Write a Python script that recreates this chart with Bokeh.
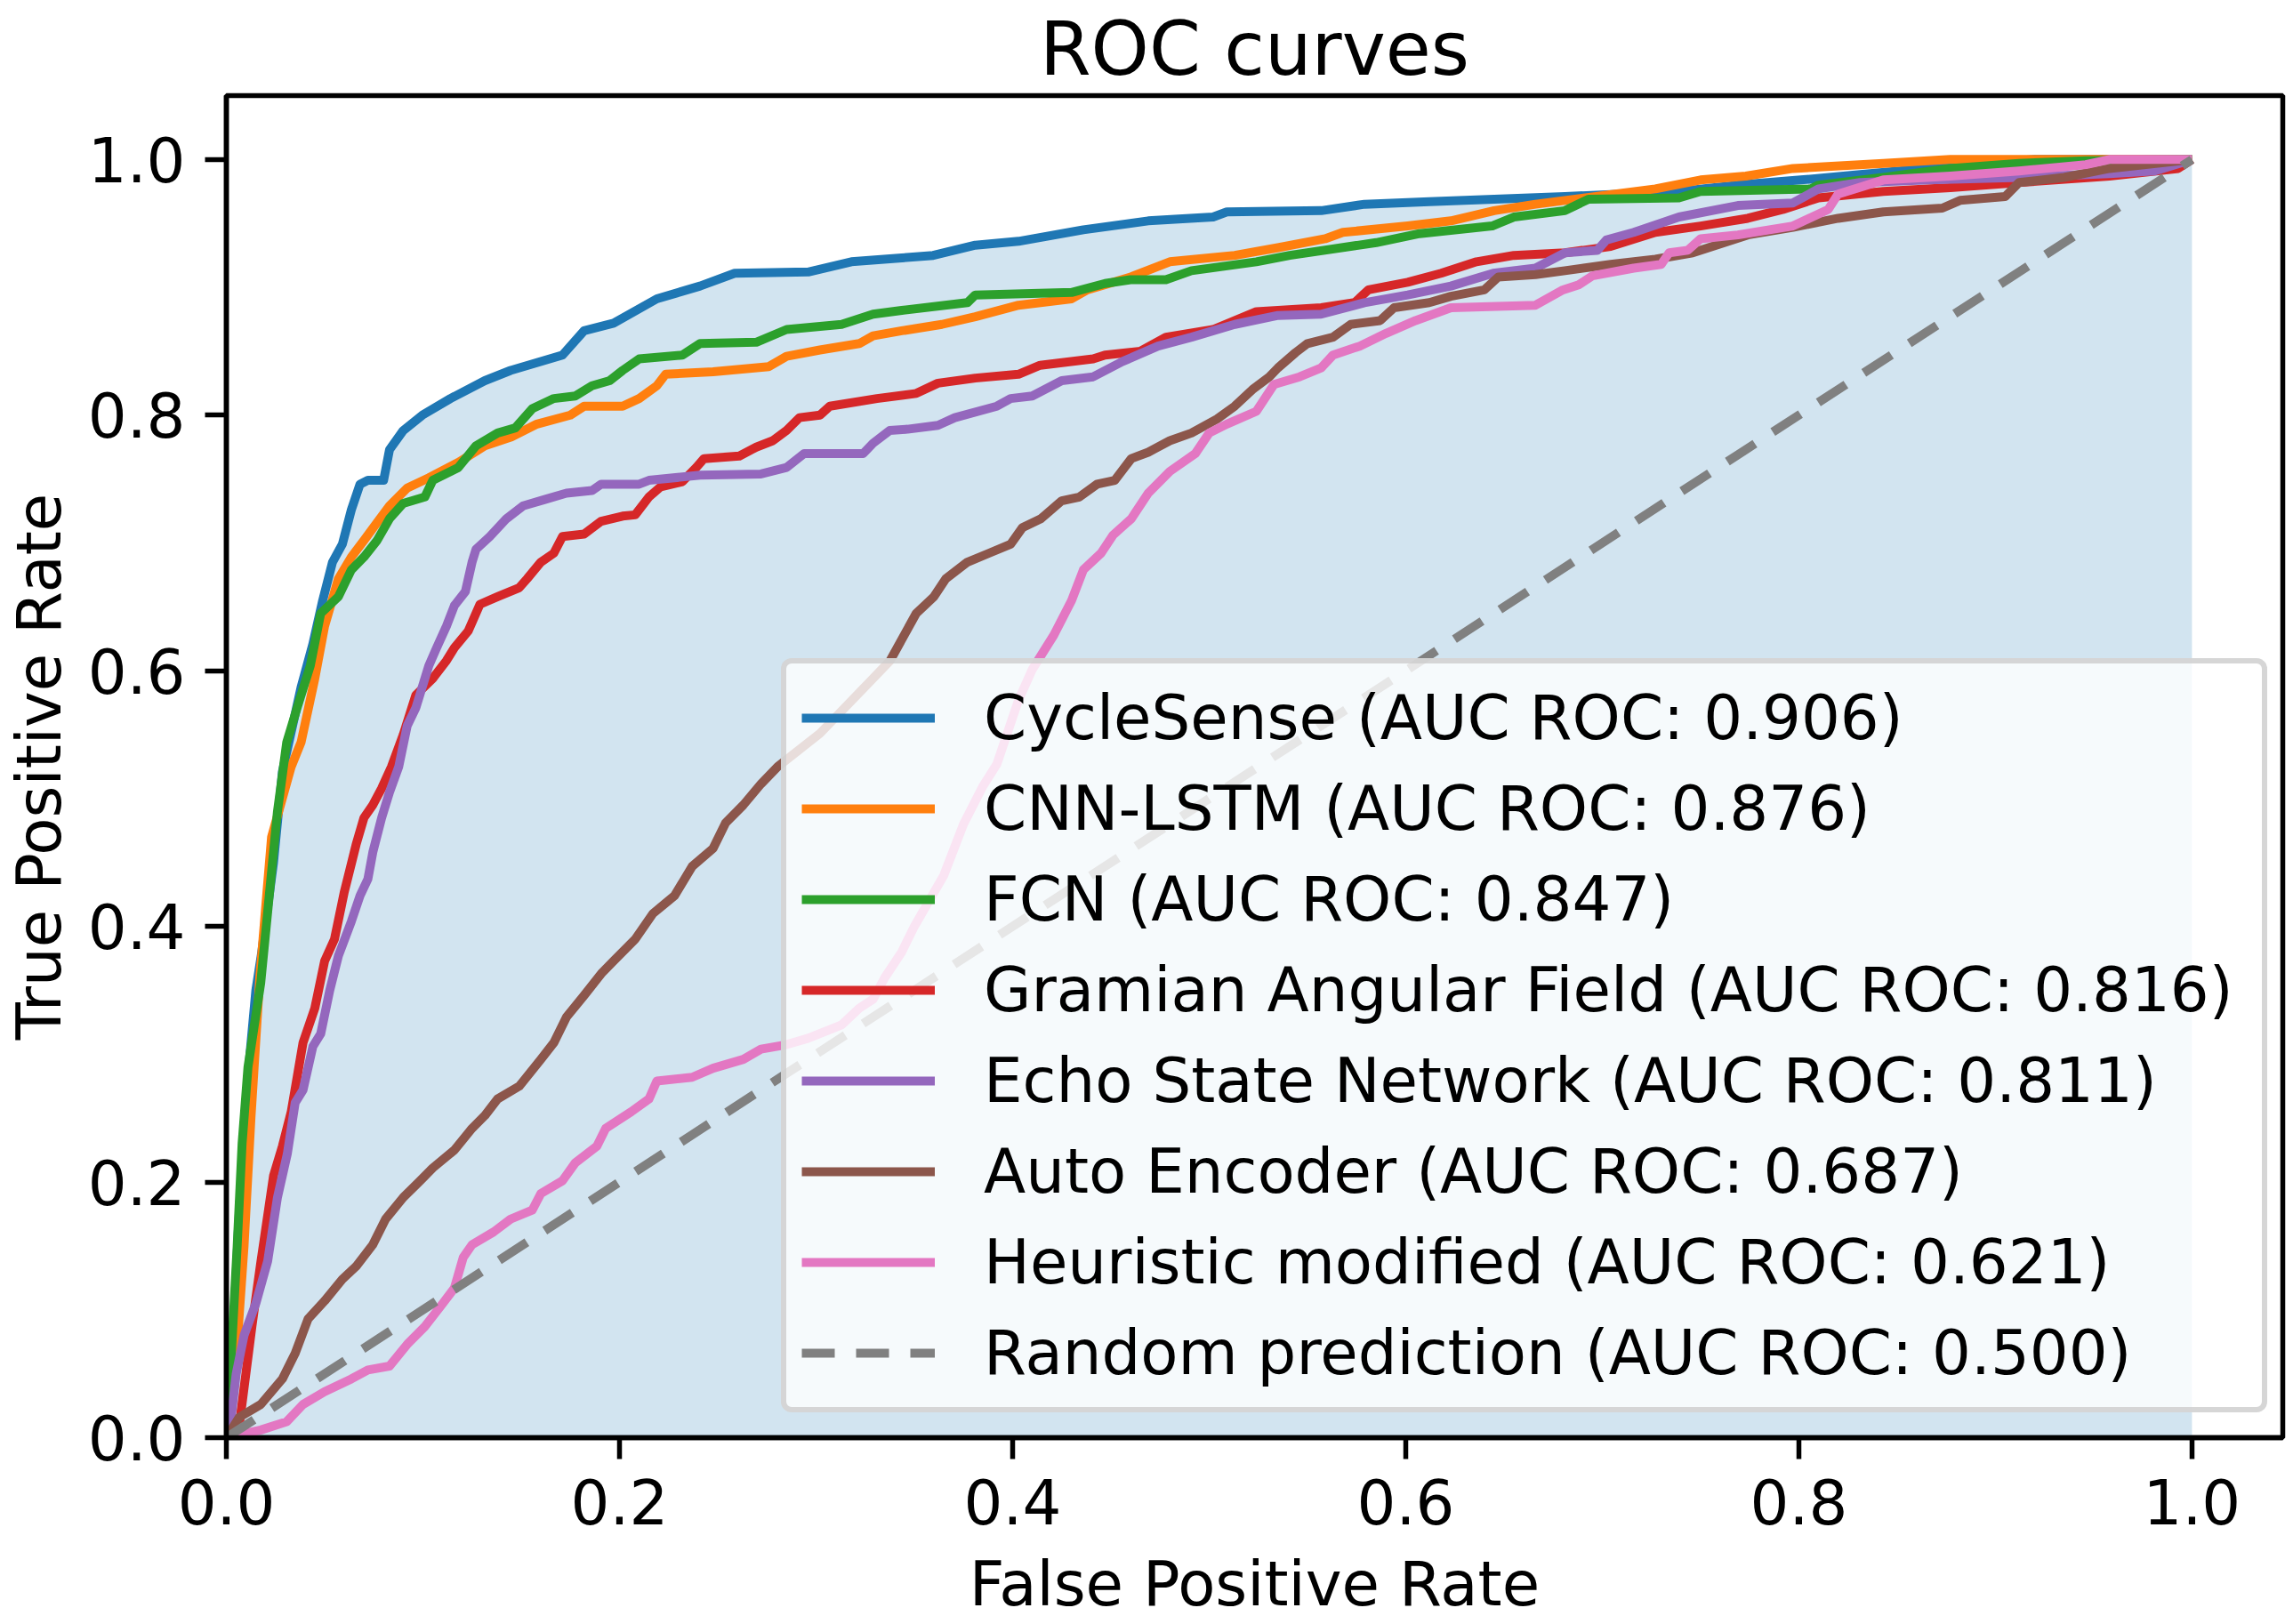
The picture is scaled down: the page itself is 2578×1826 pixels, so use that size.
from bokeh.plotting import figure
from bokeh.models import Legend, LegendItem, FixedTicker, Range1d, NumeralTickFormatter
from bokeh.embed import file_html
from bokeh.resources import INLINE

# ---------------- data ----------------
cyclesense_fpr = [0, 0.003, 0.006, 0.009, 0.012, 0.015, 0.018, 0.024, 0.0285, 0.038, 0.044, 0.049, 0.054, 0.059, 0.0636, 0.068, 0.072, 0.080, 0.083, 0.090, 0.0997, 0.114, 0.1315, 0.1446, 0.171, 0.182, 0.197, 0.219, 0.241, 0.2586, 0.296, 0.318, 0.3436, 0.3596, 0.381, 0.403, 0.436, 0.469, 0.502, 0.509, 0.557, 0.579, 0.612, 0.681, 0.739, 0.769, 0.801, 0.83, 0.88, 0.92, 1.0]
cyclesense_tpr = [0, 0.06, 0.16, 0.24, 0.30, 0.35, 0.38, 0.45, 0.521, 0.587, 0.621, 0.655, 0.685, 0.699, 0.726, 0.746, 0.749, 0.749, 0.773, 0.788, 0.800, 0.813, 0.827, 0.835, 0.847, 0.866, 0.872, 0.891, 0.901, 0.911, 0.912, 0.920, 0.923, 0.925, 0.933, 0.936, 0.945, 0.952, 0.955, 0.959, 0.960, 0.965, 0.967, 0.971, 0.975, 0.980, 0.984, 0.988, 0.995, 1.0, 1.0]

cnnlstm_fpr = [0, 0.004, 0.009, 0.0125, 0.017, 0.023, 0.033, 0.038, 0.045, 0.050, 0.057, 0.0636, 0.070, 0.0767, 0.083, 0.092, 0.103, 0.118, 0.1315, 0.145, 0.158, 0.175, 0.182, 0.2016, 0.210, 0.219, 0.2235, 0.2476, 0.276, 0.285, 0.302, 0.322, 0.329, 0.3436, 0.364, 0.381, 0.403, 0.430, 0.438, 0.460, 0.480, 0.513, 0.535, 0.559, 0.568, 0.601, 0.623, 0.645, 0.666, 0.681, 0.727, 0.750, 0.773, 0.797, 0.843, 0.877, 1.0]
cnnlstm_tpr = [0, 0.04, 0.15, 0.25, 0.36, 0.47, 0.525, 0.544, 0.594, 0.635, 0.672, 0.689, 0.702, 0.716, 0.729, 0.743, 0.751, 0.763, 0.776, 0.783, 0.793, 0.800, 0.807, 0.807, 0.813, 0.823, 0.832, 0.834, 0.838, 0.846, 0.851, 0.856, 0.862, 0.866, 0.871, 0.877, 0.886, 0.891, 0.898, 0.908, 0.920, 0.925, 0.931, 0.938, 0.943, 0.948, 0.952, 0.960, 0.965, 0.968, 0.977, 0.984, 0.987, 0.993, 0.997, 1.0, 1.0]

fcn_fpr = [0, 0.002, 0.0055, 0.008, 0.011, 0.0175, 0.026, 0.0307, 0.036, 0.0427, 0.048, 0.057, 0.0636, 0.070, 0.0767, 0.083, 0.090, 0.101, 0.105, 0.118, 0.127, 0.138, 0.147, 0.1556, 0.1666, 0.1775, 0.186, 0.195, 0.2016, 0.210, 0.232, 0.241, 0.2696, 0.285, 0.313, 0.329, 0.3436, 0.377, 0.381, 0.430, 0.447, 0.460, 0.478, 0.491, 0.524, 0.541, 0.585, 0.607, 0.644, 0.655, 0.681, 0.693, 0.739, 0.750, 0.806, 0.810, 0.843, 0.877, 0.912, 0.946, 1.0]
fcn_tpr = [0, 0.05, 0.15, 0.23, 0.29, 0.356, 0.49, 0.544, 0.571, 0.604, 0.645, 0.658, 0.679, 0.689, 0.702, 0.719, 0.731, 0.736, 0.749, 0.759, 0.776, 0.786, 0.790, 0.805, 0.813, 0.815, 0.823, 0.827, 0.835, 0.844, 0.847, 0.856, 0.857, 0.867, 0.871, 0.879, 0.882, 0.888, 0.894, 0.896, 0.903, 0.906, 0.906, 0.913, 0.920, 0.925, 0.935, 0.942, 0.948, 0.955, 0.960, 0.969, 0.970, 0.975, 0.977, 0.980, 0.986, 0.993, 0.997, 0.999, 1.0]

gaf_fpr = [0, 0.006, 0.0068, 0.013, 0.0175, 0.024, 0.0285, 0.033, 0.036, 0.039, 0.045, 0.050, 0.055, 0.060, 0.066, 0.070, 0.0745, 0.079, 0.084, 0.090, 0.0964, 0.105, 0.112, 0.116, 0.123, 0.129, 0.138, 0.149, 0.153, 0.160, 0.1666, 0.171, 0.182, 0.1907, 0.2016, 0.208, 0.215, 0.221, 0.232, 0.239, 0.243, 0.261, 0.2696, 0.278, 0.285, 0.2915, 0.302, 0.307, 0.331, 0.351, 0.362, 0.381, 0.403, 0.414, 0.441, 0.447, 0.465, 0.478, 0.502, 0.524, 0.557, 0.574, 0.581, 0.601, 0.618, 0.636, 0.655, 0.681, 0.7043, 0.727, 0.750, 0.774, 0.792, 0.810, 0.843, 0.877, 0.912, 0.958, 0.993, 1.0]
gaf_tpr = [0, 0, 0.0125, 0.087, 0.137, 0.205, 0.228, 0.255, 0.282, 0.309, 0.336, 0.373, 0.39, 0.427, 0.464, 0.485, 0.495, 0.508, 0.525, 0.550, 0.581, 0.594, 0.608, 0.618, 0.631, 0.652, 0.658, 0.665, 0.672, 0.685, 0.692, 0.705, 0.707, 0.717, 0.721, 0.722, 0.736, 0.744, 0.748, 0.759, 0.766, 0.768, 0.775, 0.780, 0.788, 0.798, 0.800, 0.807, 0.813, 0.817, 0.825, 0.829, 0.832, 0.839, 0.844, 0.847, 0.850, 0.861, 0.867, 0.881, 0.884, 0.888, 0.898, 0.904, 0.911, 0.920, 0.925, 0.927, 0.932, 0.943, 0.948, 0.954, 0.961, 0.970, 0.975, 0.978, 0.982, 0.987, 0.993, 1.0]

esn_fpr = [0, 0.002, 0.005, 0.009, 0.015, 0.021, 0.026, 0.031, 0.035, 0.039, 0.044, 0.048, 0.0526, 0.057, 0.0636, 0.068, 0.072, 0.0745, 0.079, 0.083, 0.0877, 0.092, 0.0964, 0.103, 0.107, 0.112, 0.116, 0.1216, 0.125, 0.127, 0.134, 0.1425, 0.151, 0.162, 0.173, 0.186, 0.1907, 0.210, 0.215, 0.241, 0.272, 0.285, 0.294, 0.324, 0.329, 0.3375, 0.3465, 0.362, 0.3706, 0.392, 0.399, 0.410, 0.425, 0.441, 0.456, 0.474, 0.491, 0.513, 0.535, 0.557, 0.579, 0.601, 0.623, 0.6445, 0.666, 0.681, 0.6975, 0.702, 0.716, 0.739, 0.769, 0.797, 0.810, 0.831, 0.866, 0.912, 0.958, 0.981, 1.0]
esn_tpr = [0, 0.01, 0.05, 0.08, 0.105, 0.138, 0.188, 0.222, 0.262, 0.272, 0.306, 0.316, 0.35, 0.377, 0.404, 0.424, 0.437, 0.458, 0.485, 0.505, 0.525, 0.557, 0.571, 0.604, 0.618, 0.635, 0.651, 0.662, 0.685, 0.695, 0.705, 0.719, 0.729, 0.734, 0.739, 0.741, 0.746, 0.746, 0.749, 0.753, 0.754, 0.759, 0.770, 0.770, 0.778, 0.788, 0.789, 0.792, 0.798, 0.807, 0.813, 0.815, 0.827, 0.830, 0.842, 0.854, 0.861, 0.871, 0.878, 0.879, 0.888, 0.894, 0.901, 0.911, 0.915, 0.927, 0.929, 0.937, 0.943, 0.955, 0.964, 0.966, 0.977, 0.982, 0.984, 0.986, 0.989, 0.991, 1.0]

ae_fpr = [0, 0.0066, 0.0175, 0.0285, 0.035, 0.0416, 0.050, 0.059, 0.066, 0.0745, 0.081, 0.090, 0.0986, 0.105, 0.116, 0.125, 0.1315, 0.138, 0.149, 0.160, 0.1666, 0.173, 0.182, 0.1907, 0.197, 0.208, 0.217, 0.228, 0.237, 0.2476, 0.254, 0.263, 0.272, 0.2805, 0.302, 0.324, 0.3377, 0.351, 0.360, 0.366, 0.377, 0.388, 0.399, 0.405, 0.4144, 0.425, 0.434, 0.443, 0.452, 0.4604, 0.469, 0.480, 0.491, 0.504, 0.513, 0.522, 0.5306, 0.535, 0.544, 0.550, 0.563, 0.572, 0.587, 0.594, 0.612, 0.623, 0.640, 0.647, 0.666, 0.681, 0.7043, 0.727, 0.746, 0.774, 0.797, 0.820, 0.843, 0.873, 0.882, 0.905, 0.912, 0.935, 0.958, 1.0]
ae_tpr = [0, 0.016, 0.026, 0.046, 0.066, 0.093, 0.107, 0.124, 0.134, 0.151, 0.171, 0.188, 0.201, 0.211, 0.225, 0.242, 0.252, 0.265, 0.275, 0.296, 0.309, 0.329, 0.346, 0.363, 0.373, 0.39, 0.41, 0.424, 0.447, 0.461, 0.481, 0.495, 0.5115, 0.525, 0.551, 0.586, 0.608, 0.645, 0.658, 0.672, 0.685, 0.692, 0.699, 0.712, 0.719, 0.733, 0.736, 0.746, 0.749, 0.766, 0.771, 0.780, 0.786, 0.797, 0.807, 0.820, 0.830, 0.837, 0.849, 0.856, 0.861, 0.871, 0.874, 0.884, 0.888, 0.893, 0.898, 0.908, 0.910, 0.913, 0.918, 0.922, 0.927, 0.941, 0.947, 0.954, 0.959, 0.962, 0.968, 0.971, 0.982, 0.986, 0.993, 1.0]

heur_fpr = [0, 0.0066, 0.0175, 0.0307, 0.039, 0.050, 0.0636, 0.072, 0.083, 0.092, 0.101, 0.1096, 0.116, 0.1205, 0.125, 0.136, 0.1446, 0.1556, 0.160, 0.171, 0.1775, 0.1885, 0.193, 0.206, 0.215, 0.219, 0.237, 0.2476, 0.263, 0.272, 0.285, 0.296, 0.313, 0.322, 0.329, 0.335, 0.3436, 0.35, 0.365, 0.375, 0.385, 0.392, 0.403, 0.410, 0.421, 0.430, 0.436, 0.445, 0.451, 0.4604, 0.469, 0.480, 0.493, 0.500, 0.509, 0.524, 0.533, 0.546, 0.557, 0.563, 0.5766, 0.590, 0.605, 0.623, 0.666, 0.680, 0.688, 0.695, 0.716, 0.730, 0.734, 0.7435, 0.750, 0.769, 0.797, 0.815, 0.820, 0.843, 0.877, 0.912, 0.946, 0.958, 1.0]
heur_tpr = [0, 0.0024, 0.006, 0.0125, 0.026, 0.036, 0.046, 0.053, 0.056, 0.073, 0.087, 0.104, 0.117, 0.141, 0.151, 0.161, 0.171, 0.178, 0.191, 0.201, 0.215, 0.228, 0.242, 0.255, 0.265, 0.279, 0.282, 0.289, 0.296, 0.304, 0.3075, 0.3125, 0.323, 0.336, 0.343, 0.36, 0.38, 0.40, 0.44, 0.48, 0.51, 0.527, 0.577, 0.601, 0.628, 0.655, 0.679, 0.692, 0.706, 0.719, 0.739, 0.756, 0.770, 0.786, 0.793, 0.803, 0.824, 0.830, 0.837, 0.847, 0.854, 0.864, 0.874, 0.884, 0.886, 0.898, 0.902, 0.909, 0.915, 0.918, 0.927, 0.929, 0.938, 0.941, 0.948, 0.961, 0.973, 0.984, 0.987, 0.991, 0.996, 1.0, 1.0]

random_fpr = [0.0, 1.0]
random_tpr = [0.0, 1.0]

model_names = ["CycleSense", "CNN-LSTM", "FCN", "Gramian Angular Field", "Echo State Network",
               "Auto Encoder", "Heuristic modified", "Random prediction"]
auc_values = [0.906, 0.876, 0.847, 0.816, 0.811, 0.687, 0.621, 0.500]
colors = ["#1f77b4", "#ff7f0e", "#2ca02c", "#d62728", "#9467bd", "#8c564b", "#e377c2", "#808080"]
tick_values = [0.0, 0.2, 0.4, 0.6, 0.8, 1.0]

series = [(cyclesense_fpr, cyclesense_tpr), (cnnlstm_fpr, cnnlstm_tpr), (fcn_fpr, fcn_tpr),
          (gaf_fpr, gaf_tpr), (esn_fpr, esn_tpr), (ae_fpr, ae_tpr), (heur_fpr, heur_tpr),
          (random_fpr, random_tpr)]

FONT = "DejaVu Sans"
FS = "69px"

p = figure(frame_width=2312, frame_height=1509,
           x_range=Range1d(0, 1.0462), y_range=Range1d(0, 1.05),
           output_backend="svg", toolbar_location=None,
           min_border_left=245, min_border_right=5, min_border_top=98, min_border_bottom=203,
           title="ROC curves", background_fill_color="white", border_fill_color="white")

p.title.text_font = FONT
p.title.text_font_size = "83px"
p.title.text_font_style = "normal"
p.title.align = "center"
p.title.offset = 8
p.title.text_color = "black"
p.title.standoff = 8

p.xgrid.visible = False
p.ygrid.visible = False
p.outline_line_color = "black"
p.outline_line_width = 5.5
p.outline_line_alpha = 1.0

for ax in (p.xaxis[0], p.yaxis[0]):
    ax.ticker = FixedTicker(ticks=tick_values)
    ax.formatter = NumeralTickFormatter(format="0.0")
    ax.minor_tick_line_color = None
    ax.major_tick_out = 24
    ax.major_tick_in = 0
    ax.major_tick_line_width = 5.5
    ax.major_tick_line_color = "black"
    ax.axis_line_width = 5.5
    ax.axis_line_color = "black"
    ax.major_label_text_font = FONT
    ax.major_label_text_font_size = FS
    ax.major_label_text_color = "black"
    ax.axis_label_text_font = FONT
    ax.axis_label_text_font_size = FS
    ax.axis_label_text_font_style = "normal"
    ax.axis_label_text_color = "black"

p.xaxis[0].axis_label = "False Positive Rate"
p.yaxis[0].axis_label = "True Positive Rate"
p.xaxis[0].major_label_standoff = 22
p.yaxis[0].major_label_standoff = 22
p.xaxis[0].axis_label_standoff = 24
p.yaxis[0].axis_label_standoff = 12

# area under the CycleSense curve
p.varea(x=cyclesense_fpr, y1=[0] * len(cyclesense_fpr), y2=cyclesense_tpr,
        fill_color=colors[0], fill_alpha=0.2)

items = []
for i, (fx, ty) in enumerate(series):
    kw = dict(line_color=colors[i], line_width=10, line_join="round")
    if i == len(series) - 1:
        kw["line_dash"] = "37 24"
        kw["line_join"] = "miter"
    r = p.line(x=fx, y=ty, **kw)
    items.append(LegendItem(label=f"{model_names[i]} (AUC ROC: {auc_values[i]:.3f})", renderers=[r]))

legend = Legend(items=items, location=(624, 28))
legend.label_text_font = FONT
legend.label_text_font_size = FS
legend.label_text_color = "black"
legend.glyph_width = 150
legend.glyph_height = 88
legend.label_height = 88
legend.label_width = 1420
legend.spacing = 14
legend.padding = 17
legend.margin = 0
legend.label_standoff = 55
legend.background_fill_color = "white"
legend.background_fill_alpha = 0.8
legend.border_line_color = "#cccccc"
legend.border_line_alpha = 0.8
legend.border_line_width = 6
if hasattr(legend, "border_radius"):
    legend.border_radius = 12
p.add_layout(legend)

open("out.html", "w").write(file_html(p, INLINE))
